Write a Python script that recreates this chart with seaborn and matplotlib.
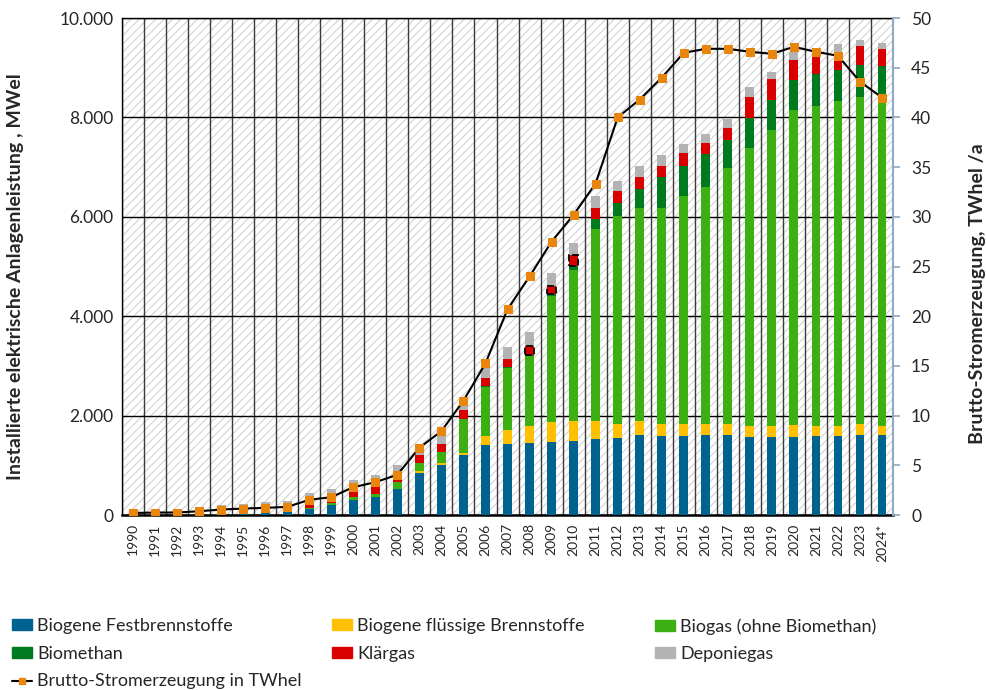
import numpy as np
import pandas as pd
import matplotlib
matplotlib.use('Agg')
import matplotlib.pyplot as plt
from matplotlib.ticker import FuncFormatter, MultipleLocator, FixedLocator
from matplotlib.patches import Patch
from matplotlib.lines import Line2D
import seaborn as sns

# Daten (MWel je Energieträger, TWhel Brutto-Stromerzeugung)
jahre = [str(j) for j in range(1990, 2024)] + ["2024*"]

festbrennstoffe = [20, 20, 20, 30, 50, 75, 90, 90, 115, 192, 293, 354, 515, 844, 1014, 1202,
                   1404, 1430, 1444, 1465, 1485, 1539, 1540, 1620, 1580, 1580, 1600, 1600,
                   1560, 1560, 1560, 1580, 1580, 1620, 1600]
fluessig = [0, 0, 0, 0, 0, 0, 0, 0, 0, 0, 0, 0, 15, 35, 28, 54,
            176, 283, 344, 410, 410, 356, 282, 263, 242, 242, 222, 222,
            228, 228, 250, 208, 208, 202, 188]
biogas = [0, 0, 0, 5, 5, 10, 10, 20, 35, 46, 67, 60, 133, 168, 227, 673,
          1000, 1241, 1420, 2540, 3044, 3852, 4204, 4304, 4365, 4593, 4781, 5170,
          5606, 5960, 6340, 6445, 6540, 6598, 6566]
biomethan = [0, 0, 0, 0, 0, 0, 0, 0, 0, 0, 0, 0, 0, 0, 0, 0,
             10, 20, 10, 30, 67, 216, 261, 375, 604, 610, 657, 563,
             604, 600, 610, 640, 632, 641, 672]
klaergas = [40, 40, 40, 50, 60, 60, 70, 80, 160, 122, 135, 168, 121, 161, 155, 175,
            170, 160, 190, 160, 216, 223, 242, 242, 234, 249, 235, 235,
            410, 420, 400, 380, 363, 369, 344]
deponiegas = [60, 60, 65, 75, 80, 70, 85, 100, 140, 169, 202, 230, 230, 216, 338, 150,
              226, 255, 280, 270, 243, 234, 201, 228, 222, 181, 168, 175,
              194, 150, 150, 140, 148, 136, 135]
strom_twh = [0.2, 0.25, 0.25, 0.38, 0.55, 0.65, 0.72, 0.82, 1.53, 1.8, 2.8, 3.3, 4.05, 6.77,
             8.44, 11.5, 15.26, 20.7, 24.0, 27.5, 30.2, 33.35, 40.0, 41.8, 44.0, 46.5,
             46.9, 46.9, 46.6, 46.4, 47.1, 46.6, 46.2, 43.6, 42.0]
# Klärgas-Punkte, die im Original markiert sind
markiert = ["2008", "2009", "2010"]

reihen = ["Biogene Festbrennstoffe", "Biogene flüssige Brennstoffe", "Biogas (ohne Biomethan)",
          "Biomethan", "Klärgas", "Deponiegas"]
farben = ["#00638F", "#FFC000", "#3CAF12", "#007A1E", "#D80000", "#B3B3B3"]

df = pd.DataFrame({"Jahr": jahre,
                   reihen[0]: festbrennstoffe, reihen[1]: fluessig, reihen[2]: biogas,
                   reihen[3]: biomethan, reihen[4]: klaergas, reihen[5]: deponiegas})
kum = df[reihen].cumsum(axis=1)

sns.set_style("white")
plt.rcParams['font.family'] = ['Lato', 'DejaVu Sans']
plt.rcParams['hatch.linewidth'] = 0.8

fig = plt.figure(figsize=(9.87, 6.9), dpi=100)
ax = fig.add_axes([0.1236, 0.2536, 0.7812, 0.7203])

# schraffierter Hintergrund
ax.patch.set_facecolor("white")
ax.patch.set_hatch("////")
ax.patch.set_edgecolor("#d2d2d2")
ax.patch.set_linewidth(0)

# gestapelte Säulen: von oben nach unten überlagert
for name, farbe in reversed(list(zip(reihen, farben))):
    sns.barplot(x=df["Jahr"], y=kum[name], color=farbe, width=0.4, saturation=1,
                ax=ax, zorder=3, linewidth=0)

# markierte Klärgas-Segmente mit gestrichelter Umrandung
idx = [jahre.index(j) for j in markiert]
ax.bar(idx, [klaergas[i] for i in idx], bottom=[kum[reihen[3]][i] for i in idx],
       width=0.42, color=farben[4], edgecolor="black", linestyle="--", linewidth=1.3, zorder=4)

ax.set_xlim(-0.5, len(jahre) - 0.5)
ax.set_ylim(0, 10000)
ax.yaxis.set_major_locator(MultipleLocator(2000))
ax.yaxis.set_major_formatter(FuncFormatter(lambda v, p: f"{int(v):,}".replace(",", ".")))
ax.set_xticks(range(len(jahre)))
ax.set_xticklabels(jahre, rotation=90, fontsize=10)
ax.xaxis.set_minor_locator(FixedLocator(np.arange(-0.5, len(jahre), 1)))
ax.tick_params(axis="x", which="major", length=0, pad=6)
ax.tick_params(axis="x", which="minor", length=5, width=1.2, color="black", direction="out")
ax.tick_params(axis="y", length=0, labelsize=12.5, pad=6)
ax.grid(axis="y", which="major", color="black", linewidth=1, zorder=1)
ax.grid(axis="x", which="minor", color="#3a3a3a", linewidth=1, zorder=1)
ax.grid(axis="x", which="major", visible=False)
ax.set_axisbelow(True)
for s in ["left", "top"]:
    ax.spines[s].set_color("black")
    ax.spines[s].set_linewidth(1)
ax.spines["bottom"].set_color("black")
ax.spines["bottom"].set_linewidth(1.8)
ax.spines["right"].set_visible(False)
ax.set_xlabel("")
ax.set_ylabel("Installierte elektrische Anlagenleistung , MWel", fontsize=14,
              fontweight="bold")
ax.yaxis.set_label_coords(-0.127, 0.48)

# Brutto-Stromerzeugung auf rechter Achse
ax2 = ax.twinx()
sns.lineplot(x=np.arange(len(jahre)), y=strom_twh, ax=ax2, color="black", linewidth=1.5,
             marker="s", markersize=5.5, markerfacecolor="#E8850C", markeredgecolor="#E8850C",
             zorder=5)
ax2.set_ylim(0, 50)
ax2.yaxis.set_major_locator(MultipleLocator(5))
ax2.tick_params(axis="y", length=5, width=1.2, color="#8EA9C1", direction="out",
                labelsize=12.5, pad=8)
for s in ["left", "top", "bottom"]:
    ax2.spines[s].set_visible(False)
ax2.spines["right"].set_color("#8EA9C1")
ax2.spines["right"].set_linewidth(1.5)
ax2.set_ylabel("Brutto-Stromerzeugung, TWhel /a", fontsize=14, fontweight="bold")
ax2.yaxis.set_label_coords(1.099, 0.445)

# Legende unten, drei Spalten an festen Positionen
h = [Patch(facecolor=c, edgecolor=c) for c in farben]
linie = Line2D([], [], color="black", linewidth=1.5, marker="s", markersize=5,
               markerfacecolor="#E8850C", markeredgecolor="#E8850C")
spalten = [([h[0], h[3], linie], [reihen[0], reihen[3], "Brutto-Stromerzeugung in TWhel"], 12),
           ([h[1], h[4]], [reihen[1], reihen[4]], 332),
           ([h[2], h[5]], [reihen[2], reihen[5]], 655)]
for hs, ls, xpx in spalten:
    fig.legend(hs, ls, loc="upper left", bbox_to_anchor=(xpx / 987, 1 - 618 / 690),
               frameon=False, fontsize=13, handlelength=1.1, handleheight=0.55,
               handletextpad=0.3, labelspacing=0.65, borderaxespad=0, borderpad=0)

fig.savefig("out.png", dpi=100)
